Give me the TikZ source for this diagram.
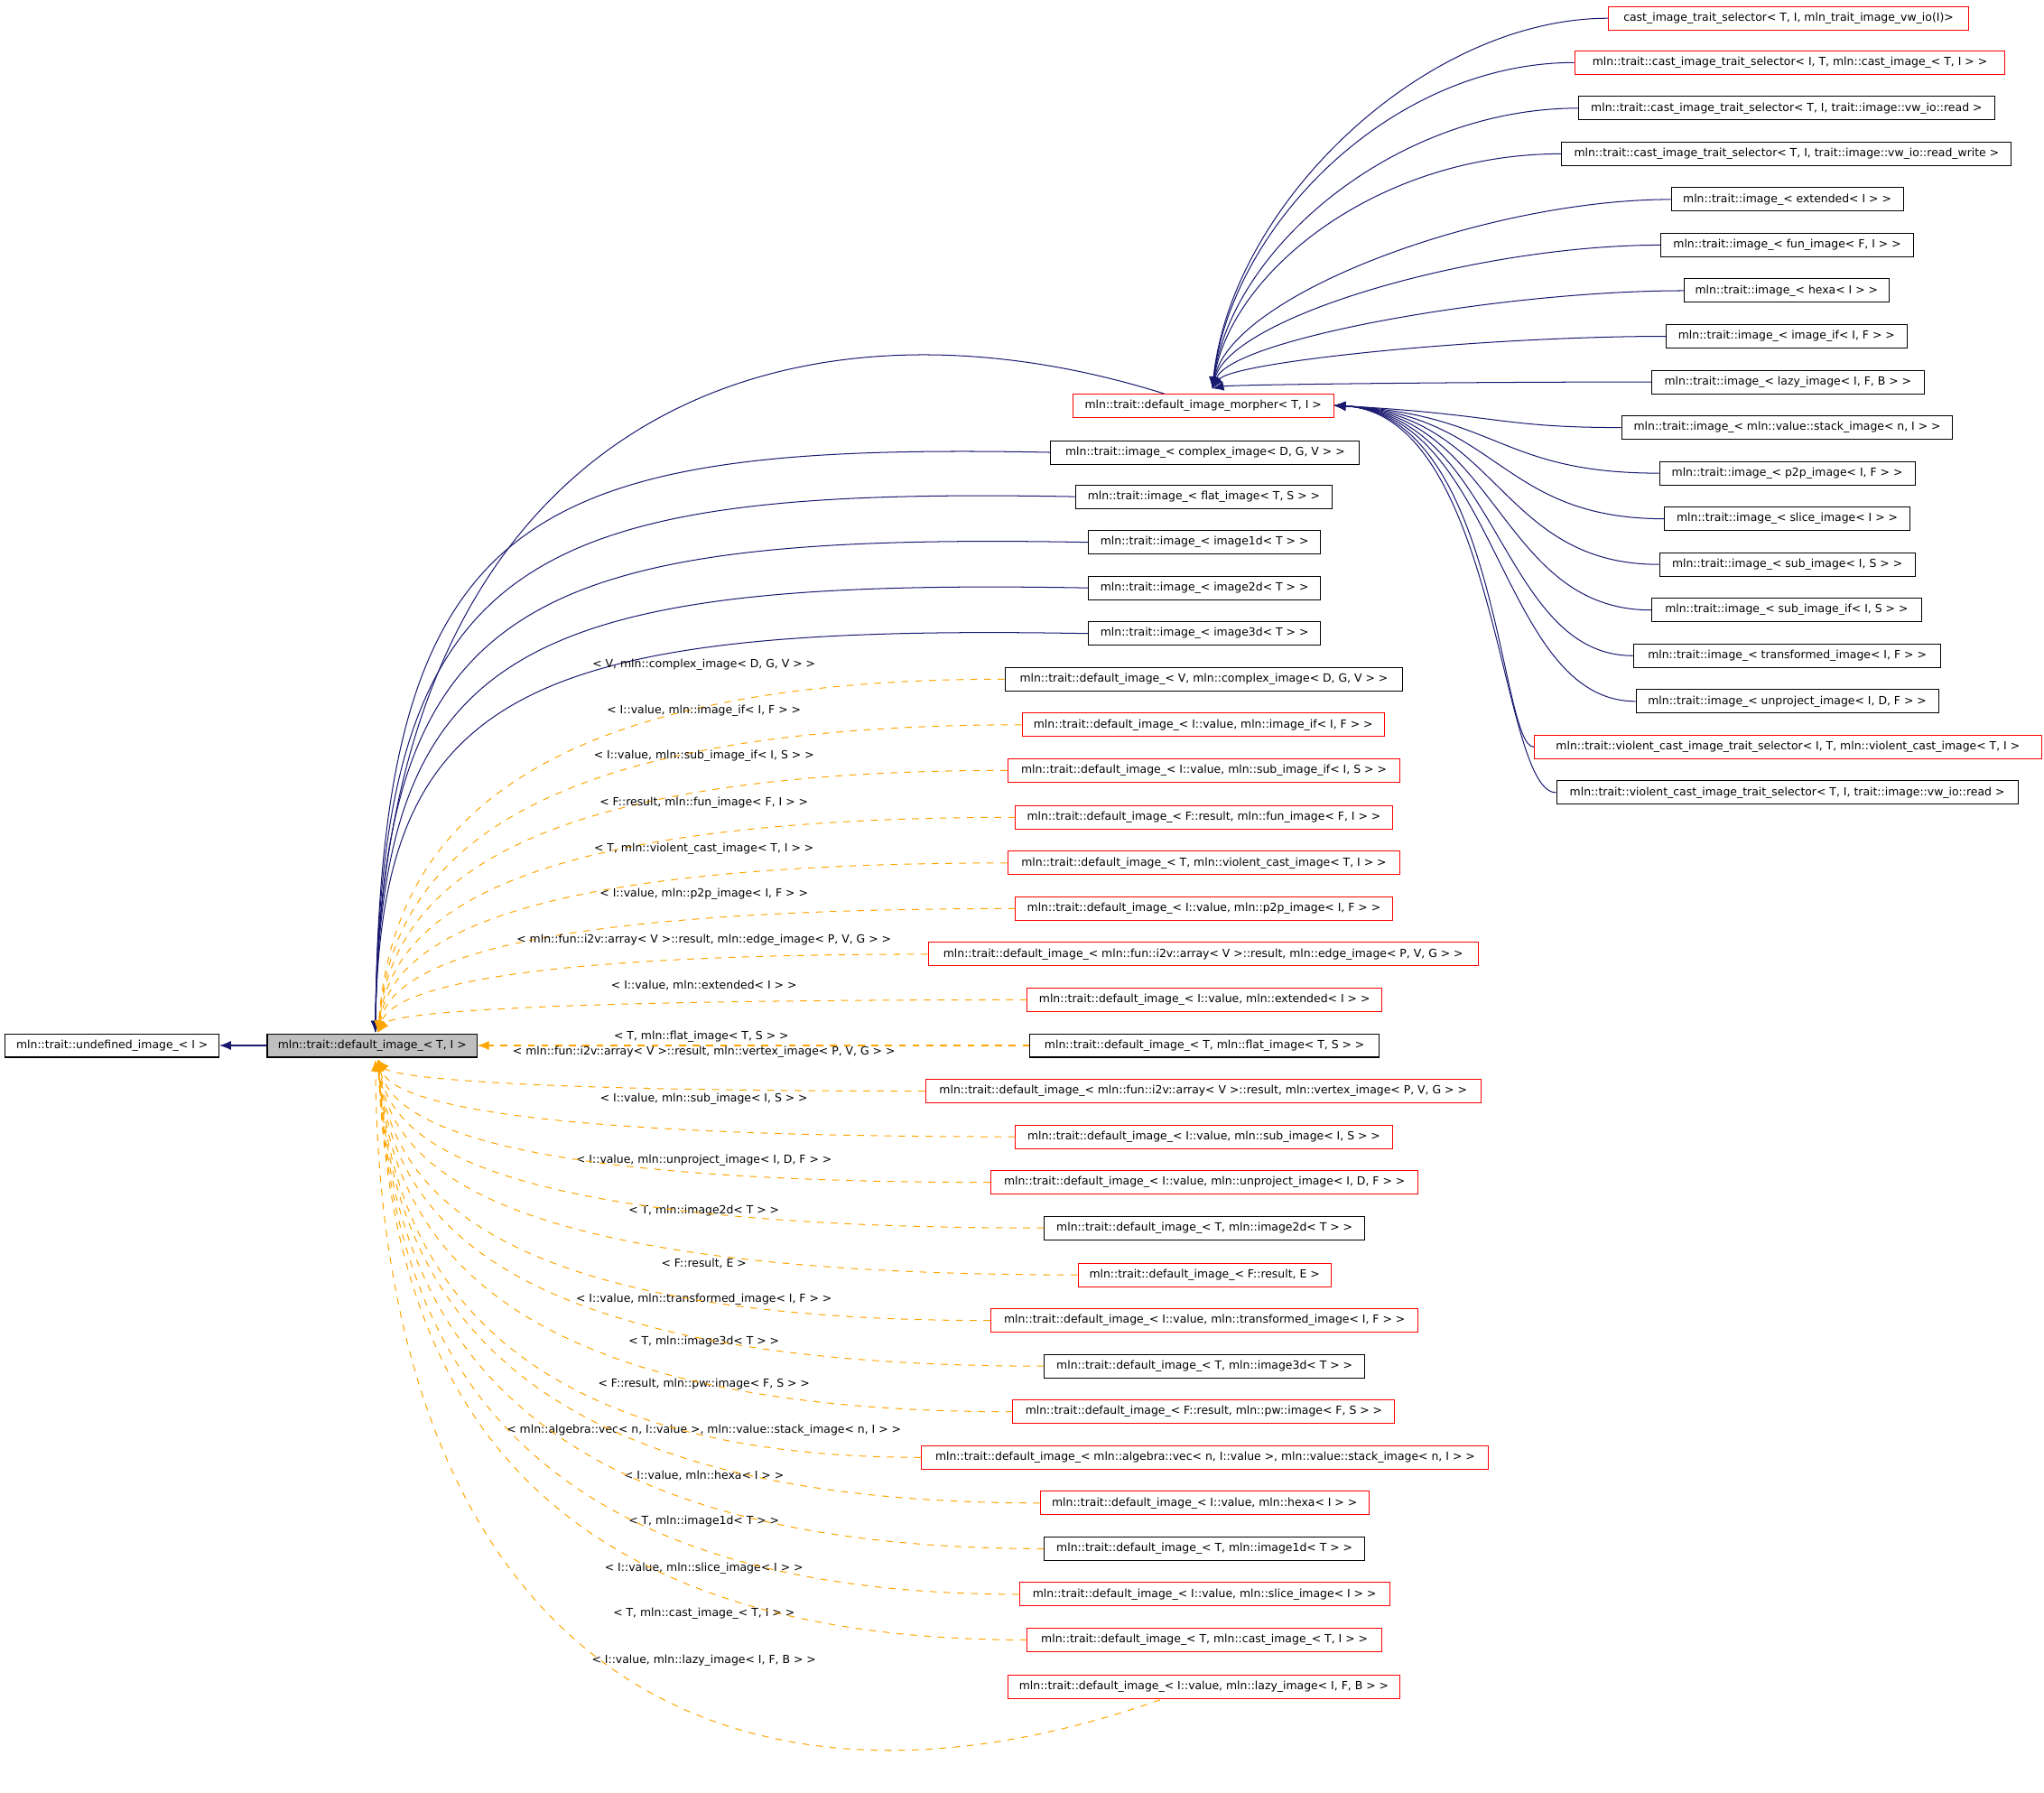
\documentclass[tikz,border=0pt]{standalone}
\usepackage{fontspec}
\setmainfont{DejaVu Sans}
\usetikzlibrary{arrows.meta}
\definecolor{dxnavy}{HTML}{191970}
\definecolor{dxorange}{HTML}{FFA500}
\definecolor{dxred}{HTML}{FF0000}
\definecolor{dxgray}{HTML}{BFBFBF}

\begin{document}
\begin{tikzpicture}[
    x=0.02cm, y=-0.02cm,
    font=\fontsize{4.9}{5.5}\selectfont,
    cls/.style={
        rectangle,
        draw=#1,
        line width=0.4pt,
        minimum height=0.36cm,
        inner sep=1pt
    },
    w/.style={minimum width=(#1)*0.02cm},
    inh/.style={
        -{Latex[length=5pt,width=4pt]},
        draw=dxnavy,
        line width=0.4pt
    },
    tmpl/.style={
        -{Latex[length=5pt,width=4pt]},
        draw=dxorange,
        dashed,
        line width=0.4pt
    },
    tlabel/.style={inner sep=0pt}
]
\useasboundingbox (0,0) rectangle (1568,1375);

% Base classes
\node[cls=black, w=164] (undef) at (86,802) {mln::trait::undefined\_image\_< I >};
\node[cls=black, fill=dxgray, w=161] (def) at (285.5,802) {mln::trait::default\_image\_< T, I >};
\draw[inh] (def) -- (undef);

% Morpher and its children
\node[cls=dxred, w=200] (morph) at (923,311) {mln::trait::default\_image\_morpher< T, I >};

\node[cls=dxred, w=276] (s1) at (1372,14) {cast\_image\_trait\_selector< T, I, mln\_trait\_image\_vw\_io(I)>};
\node[cls=dxred, w=330] (s2) at (1373,48) {mln::trait::cast\_image\_trait\_selector< I, T, mln::cast\_image\_< T, I > >};
\node[cls=black, w=319] (s3) at (1370.5,83) {mln::trait::cast\_image\_trait\_selector< T, I, trait::image::vw\_io::read >};
\node[cls=black, w=345] (s4) at (1370.5,118) {mln::trait::cast\_image\_trait\_selector< T, I, trait::image::vw\_io::read\_write >};
\node[cls=black, w=178] (s5) at (1371,153) {mln::trait::image\_< extended< I > >};
\node[cls=black, w=194] (s6) at (1371,188) {mln::trait::image\_< fun\_image< F, I > >};
\node[cls=black, w=157] (s7) at (1370.5,223) {mln::trait::image\_< hexa< I > >};
\node[cls=black, w=185] (s8) at (1370.5,258) {mln::trait::image\_< image\_if< I, F > >};
\node[cls=black, w=209] (s9) at (1371.5,293) {mln::trait::image\_< lazy\_image< I, F, B > >};
\node[cls=black, w=254] (s10) at (1371,328) {mln::trait::image\_< mln::value::stack\_image< n, I > >};
\node[cls=black, w=196] (s11) at (1371,363) {mln::trait::image\_< p2p\_image< I, F > >};
\node[cls=black, w=188] (s12) at (1371,398) {mln::trait::image\_< slice\_image< I > >};
\node[cls=black, w=196] (s13) at (1371,433) {mln::trait::image\_< sub\_image< I, S > >};
\node[cls=black, w=207] (s14) at (1370.5,468) {mln::trait::image\_< sub\_image\_if< I, S > >};
\node[cls=black, w=236] (s15) at (1371,503) {mln::trait::image\_< transformed\_image< I, F > >};
\node[cls=black, w=232] (s16) at (1371,538) {mln::trait::image\_< unproject\_image< I, D, F > >};
\node[cls=dxred, w=389] (s17) at (1371.5,573) {mln::trait::violent\_cast\_image\_trait\_selector< I, T, mln::violent\_cast\_image< T, I >};
\node[cls=black, w=354] (s18) at (1371,608) {mln::trait::violent\_cast\_image\_trait\_selector< T, I, trait::image::vw\_io::read >};

\foreach \n/\y in {s1/14, s2/48, s3/83, s4/118, s5/153, s6/188, s7/223, s8/258, s9/293}
    \draw[inh] (\n.west) .. controls +(-140,0) and (945,{(\y+297)/2}) .. (930,298);
\foreach \n/\y in {s10/328, s11/363, s12/398, s13/433, s14/468, s15/503, s16/538, s17/573, s18/608}
    \draw[inh] (\n.west) .. controls (1150,\y) and (1150,318) .. (morph.east);

% Direct children of default_image_
\node[cls=black, w=237] (cplx) at (924.5,347) {mln::trait::image\_< complex\_image< D, G, V > >};
\node[cls=black, w=197] (flat) at (923.5,381) {mln::trait::image\_< flat\_image< T, S > >};
\node[cls=black, w=178] (im1) at (924,416) {mln::trait::image\_< image1d< T > >};
\node[cls=black, w=178] (im2) at (924,451) {mln::trait::image\_< image2d< T > >};
\node[cls=black, w=178] (im3) at (924,486) {mln::trait::image\_< image3d< T > >};

\draw[inh] (893,302) .. controls (600,210) and (292,320) .. (288,792);
\foreach \n/\y in {cplx/347, flat/381, im1/416, im2/451, im3/486}
    \draw[inh] (\n.west) .. controls (400,\y-8) and (292,\y+45) .. (288,792);

% Template instances (above the base)
\foreach \n/\y/\a/\b/\t/\l in {
    t1/521/771/1076/black/{< V, mln::complex\_image< D, G, V > >},
    t2/556/784/1062/dxred/{< I::value, mln::image\_if< I, F > >},
    t3/591/773/1074/dxred/{< I::value, mln::sub\_image\_if< I, S > >},
    t4/627/779/1068/dxred/{< F::result, mln::fun\_image< F, I > >},
    t5/662/773/1074/dxred/{< T, mln::violent\_cast\_image< T, I > >},
    t6/697/779/1068/dxred/{< I::value, mln::p2p\_image< I, F > >},
    t7/732/712/1134/dxred/{< mln::fun::i2v::array< V >::result, mln::edge\_image< P, V, G > >},
    t8/767/788/1060/dxred/{< I::value, mln::extended< I > >}}
{
    \node[cls=\t, w={\b-\a}] (\n) at ({(\a+\b)/2},\y) {mln::trait::default\_image\_\l};
    \node[tlabel] at (540,\y-11) {\l};
    \draw[tmpl] (\n.west) .. controls (380,\y) and (300,{(\y+790)/2}) .. (290,792);
}

\node[cls=black, w=268] (t9) at (924,802) {mln::trait::default\_image\_< T, mln::flat\_image< T, S > >};
\node[tlabel] at (538,795) {< T, mln::flat\_image< T, S > >};
\draw[tmpl] (t9) -- (def);

% Template instances (below the base)
\foreach \n/\y/\a/\b/\t/\l/\ly in {
    t10/837/710/1136/dxred/{< mln::fun::i2v::array< V >::result, mln::vertex\_image< P, V, G > >}/807,
    t11/872/779/1068/dxred/{< I::value, mln::sub\_image< I, S > >}/843,
    t12/907/760/1088/dxred/{< I::value, mln::unproject\_image< I, D, F > >}/890,
    t13/942/801/1047/black/{< T, mln::image2d< T > >}/929,
    t14/978/827/1021/dxred/{< F::result, E >}/969,
    t15/1013/760/1088/dxred/{< I::value, mln::transformed\_image< I, F > >}/997,
    t16/1048/801/1047/black/{< T, mln::image3d< T > >}/1029,
    t17/1083/777/1070/dxred/{< F::result, mln::pw::image< F, S > >}/1062,
    t18/1118/707/1142/dxred/{< mln::algebra::vec< n, I::value >, mln::value::stack\_image< n, I > >}/1097,
    t19/1153/798/1050/dxred/{< I::value, mln::hexa< I > >}/1132,
    t20/1188/801/1047/black/{< T, mln::image1d< T > >}/1167,
    t21/1223/782/1066/dxred/{< I::value, mln::slice\_image< I > >}/1203,
    t22/1258/788/1060/dxred/{< T, mln::cast\_image\_< T, I > >}/1238}
{
    \node[cls=\t, w={\b-\a}] (\n) at ({(\a+\b)/2},\y) {mln::trait::default\_image\_\l};
    \node[tlabel] at (540,\ly) {\l};
    \draw[tmpl] (\n.west) .. controls (380,\y) and (300,{(\y+814)/2}) .. (290,813);
}

\node[cls=dxred, w=301] (t23) at (923.5,1294) {mln::trait::default\_image\_< I::value, mln::lazy\_image< I, F, B > >};
\node[tlabel] at (540,1274) {< I::value, mln::lazy\_image< I, F, B > >};
\draw[tmpl] (890,1304) .. controls (560,1420) and (292,1280) .. (288,813);

\end{tikzpicture}
\end{document}
